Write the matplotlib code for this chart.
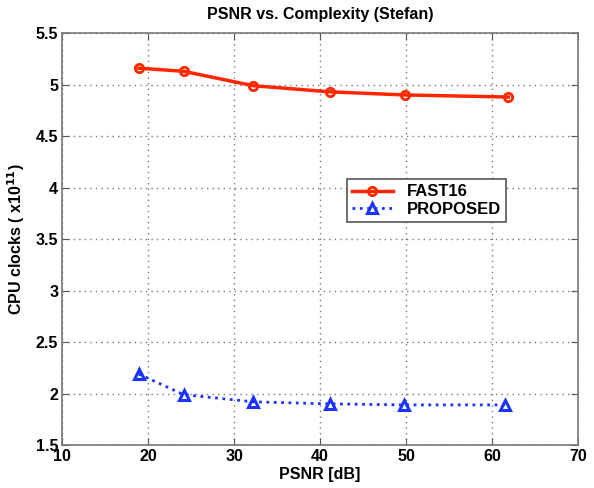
import matplotlib
matplotlib.use("Agg")
import matplotlib.pyplot as plt

# values
fast_psnr = [18.9, 24.1, 32.2, 41.2, 49.9, 61.9]
fast_clk = [5.16, 5.13, 4.99, 4.93, 4.90, 4.88]
prop_psnr = [18.9, 24.1, 32.2, 41.1, 49.8, 61.5]
prop_clk = [2.19, 1.99, 1.92, 1.90, 1.89, 1.89]
xticks = [10, 20, 30, 40, 50, 60, 70]
yticks = [1.5, 2, 2.5, 3, 3.5, 4, 4.5, 5, 5.5]

plt.rcParams["font.family"] = ["Liberation Sans", "DejaVu Sans"]
plt.rcParams["font.weight"] = "bold"

fig = plt.figure(figsize=(5.94, 4.88), dpi=100)
ax = fig.add_axes([0.105, 0.088, 0.868, 0.844])

ax.plot(fast_psnr, fast_clk, "-o", color=(1, 0.15, 0), lw=2.5, ms=6,
        mfc="none", mew=2, label="FAST16")
ax.plot(prop_psnr, prop_clk, ":^", color=(0.1, 0.2, 1), lw=2, ms=7,
        mfc="none", mew=2.2, label="PROPOSED")

ax.set_xlim(10, 70)
ax.set_ylim(1.5, 5.5)
ax.set_xticks(xticks)
ax.set_yticks(yticks)
ax.set_yticklabels([f"{t:g}" for t in yticks])
ax.tick_params(direction="in", top=True, right=True, labelsize=11.5,
               length=5, color="#555555", pad=3)
for lab in ax.get_xticklabels() + ax.get_yticklabels():
    lab.set_fontweight("bold")
ax.grid(True, linestyle=(0, (1, 3)), color="#777777", lw=1)
for s in ax.spines.values():
    s.set_color("#777777")
    s.set_linewidth(1.2)

ax.set_xlabel("PSNR [dB]", fontsize=11.5, fontweight="bold", labelpad=2)
ax.set_ylabel("CPU clocks ( x10$^{11}$)", fontsize=11.5, fontweight="bold")
ax.yaxis.set_label_coords(-0.068, 0.5)
ax.set_title("PSNR vs. Complexity (Stefan)", fontsize=11.5, fontweight="bold", pad=10)

leg = ax.legend(loc="upper left", bbox_to_anchor=(0.535, 0.665), fancybox=False,
                edgecolor="#555555", framealpha=1, fontsize=12,
                handlelength=2.5, borderpad=0.3, labelspacing=0.15)
leg.get_frame().set_linewidth(1.2)
for t in leg.get_texts():
    t.set_fontweight("bold")

fig.savefig("out.png", dpi=100)
